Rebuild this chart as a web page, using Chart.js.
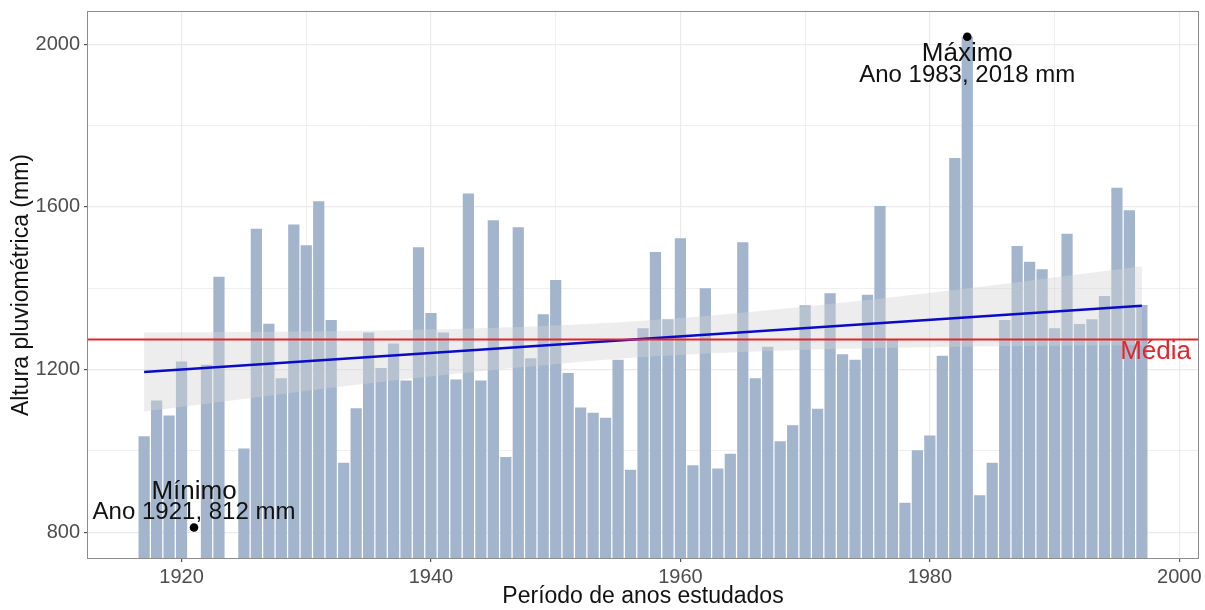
<!DOCTYPE html>
<html>
<head>
<meta charset="utf-8">
<script src="https://cdn.jsdelivr.net/npm/chart.js@4"></script>
<style>
    body { margin: 0; background: #ffffff; }
    #wrap { width: 1205px; height: 610px; }
</style>
</head>
<body>
<div id="wrap"><canvas id="rain" width="1205" height="610"></canvas></div>
<script>
    //yearly rainfall (mm) - no bar for 1921 and 1924
    const years = [1917, 1918, 1919, 1920, 1921, 1922, 1923, 1924, 1925, 1926,
        1927, 1928, 1929, 1930, 1931, 1932, 1933, 1934, 1935, 1936,
        1937, 1938, 1939, 1940, 1941, 1942, 1943, 1944, 1945, 1946,
        1947, 1948, 1949, 1950, 1951, 1952, 1953, 1954, 1955, 1956,
        1957, 1958, 1959, 1960, 1961, 1962, 1963, 1964, 1965, 1966,
        1967, 1968, 1969, 1970, 1971, 1972, 1973, 1974, 1975, 1976,
        1977, 1978, 1979, 1980, 1981, 1982, 1983, 1984, 1985, 1986,
        1987, 1988, 1989, 1990, 1991, 1992, 1993, 1994, 1995, 1996, 1997];
    const rainfall = [1036, 1124, 1087, 1220, null, 1212, 1428, null, 1006, 1546,
        1313, 1179, 1557, 1506, 1614, 1322, 971, 1105, 1291, 1204,
        1264, 1173, 1501, 1339, 1291, 1176, 1633, 1173, 1567, 985,
        1550, 1228, 1336, 1420, 1192, 1107, 1094, 1082, 1224, 954,
        1302, 1489, 1324, 1523, 965, 1400, 957, 993, 1513, 1179,
        1256, 1024, 1063, 1358, 1104, 1388, 1238, 1224, 1384, 1602,
        1273, 873, 1002, 1038, 1234, 1720, 2018, 891, 971, 1322,
        1504, 1465, 1447, 1302, 1534, 1312, 1324, 1381, 1647, 1592, 1359];

    //linear trend and its confidence band
    const trendYears = [1917, 1997];
    const trendValues = [1194, 1357];
    const bandYears = [1917, 1927, 1937, 1947, 1957, 1967, 1977, 1987, 1997];
    const bandUpper = [1291, 1293, 1297, 1305, 1320, 1346, 1378, 1415, 1454];
    const bandLower = [1097, 1136, 1173, 1205, 1231, 1246, 1254, 1258, 1260];

    //mean and extremes
    const meanValue = 1276;
    const extremeYears = [1921, 1983];
    const extremeValues = [812, 2018];

    //axis ticks
    const xTicks = [1920, 1930, 1940, 1950, 1960, 1970, 1980, 1990, 2000];
    const yTicks = [800, 1000, 1200, 1400, 1600, 1800, 2000];

    Chart.defaults.font.family = '"Liberation Sans", Arial, sans-serif';

    const toPoints = (xs, ys) => xs.map((x, i) => ({x: x, y: ys[i]}));

    /*texts, mean line and panel border*/
    const extras = {
        id: 'extras',
        afterDatasetsDraw(chart) {
            const {ctx, chartArea: a, scales: {x, y}} = chart;
            ctx.save();
            const my = Math.round(y.getPixelForValue(meanValue)) + 0.5;
            ctx.strokeStyle = '#E3262B';
            ctx.lineWidth = 1.8;
            ctx.beginPath();
            ctx.moveTo(a.left, my);
            ctx.lineTo(a.right, my);
            ctx.stroke();

            const notes = [
                {text: 'Máximo', x: 1983, y: 1975, size: 26, color: '#111111'},
                {text: 'Ano 1983, 2018 mm', x: 1983, y: 1924, size: 24, color: '#111111'},
                {text: 'Mínimo', x: 1921, y: 900, size: 26, color: '#111111'},
                {text: 'Ano 1921, 812 mm', x: 1921, y: 848, size: 24, color: '#111111'},
                {text: 'Média', x: 1998.1, y: 1244, size: 26, color: '#E3262B'}
            ];
            ctx.textAlign = 'center';
            ctx.textBaseline = 'middle';
            notes.forEach(n => {
                ctx.font = `${n.size}px "Liberation Sans", Arial, sans-serif`;
                ctx.fillStyle = n.color;
                ctx.fillText(n.text, x.getPixelForValue(n.x), y.getPixelForValue(n.y));
            });
            ctx.restore();
        },
        afterDraw(chart) {
            const {ctx, chartArea: a} = chart;
            ctx.save();
            ctx.strokeStyle = '#8C8C8C';
            ctx.lineWidth = 1;
            ctx.strokeRect(a.left - 0.5, a.top - 0.5, a.right - a.left + 1, a.bottom - a.top + 1);
            ctx.restore();
        }
    };

    const rain = document.getElementById('rain');
    new Chart(rain, {
        type: 'bar',
        data: {
            datasets: [{
                type: 'bar',
                data: toPoints(years, rainfall),
                backgroundColor: '#A2B5CD',
                borderWidth: 0,
                barPercentage: 0.9,
                categoryPercentage: 1,
                order: 5
            }, {
                type: 'line',
                data: toPoints(bandYears, bandLower),
                borderColor: 'transparent',
                borderWidth: 0,
                pointRadius: 0,
                cubicInterpolationMode: 'monotone',
                fill: false,
                order: 4
            }, {
                type: 'line',
                data: toPoints(bandYears, bandUpper),
                borderColor: 'transparent',
                borderWidth: 0,
                pointRadius: 0,
                cubicInterpolationMode: 'monotone',
                backgroundColor: 'rgba(212, 212, 212, 0.42)',
                fill: '-1',
                order: 3
            }, {
                type: 'line',
                data: toPoints(trendYears, trendValues),
                borderColor: '#0A0AC8',
                borderWidth: 2.6,
                pointRadius: 0,
                fill: false,
                order: 2
            }, {
                type: 'scatter',
                data: toPoints(extremeYears, extremeValues),
                backgroundColor: '#000000',
                borderWidth: 0,
                pointRadius: 4.3,
                order: 1
            }]
        },
        options: {
            responsive: false,
            animation: false,
            layout: { padding: { left: 0, top: 12, right: 7, bottom: 0 } },
            plugins: { legend: { display: false }, tooltip: { enabled: false } },
            scales: {
                x: {
                    type: 'linear',
                    min: 1912.5,
                    max: 2001.5,
                    offset: false,
                    afterBuildTicks: s => { s.ticks = xTicks.map(v => ({value: v})); },
                    afterFit: s => { s.height = 52; s.paddingLeft = 0; s.paddingRight = 0; },
                    border: { display: false },
                    grid: {
                        offset: false,
                        color: '#EBEBEB',
                        lineWidth: c => (c.tick && c.tick.value % 20 === 0) ? 1.2 : 0.8,
                        tickColor: c => (c.tick && c.tick.value % 20 === 0) ? '#555555' : 'rgba(0,0,0,0)',
                        tickLength: 4
                    },
                    ticks: {
                        autoSkip: false,
                        maxRotation: 0,
                        padding: 3,
                        color: '#4D4D4D',
                        font: { size: 20 },
                        callback: v => v % 20 === 0 ? String(v) : ''
                    },
                    title: {
                        display: true,
                        text: 'Período de anos estudados',
                        color: '#111111',
                        font: { size: 23 },
                        padding: { top: 0, bottom: 0 }
                    }
                },
                y: {
                    type: 'linear',
                    min: 737,
                    max: 2079,
                    afterBuildTicks: s => { s.ticks = yTicks.map(v => ({value: v})); },
                    afterFit: s => { s.width = 88; s.paddingTop = 0; s.paddingBottom = 0; },
                    border: { display: false },
                    grid: {
                        color: '#EBEBEB',
                        lineWidth: c => (c.tick && (c.tick.value - 800) % 400 === 0) ? 1.2 : 0.8,
                        tickColor: c => (c.tick && (c.tick.value - 800) % 400 === 0) ? '#555555' : 'rgba(0,0,0,0)',
                        tickLength: 4
                    },
                    ticks: {
                        padding: 4,
                        color: '#4D4D4D',
                        font: { size: 20 },
                        callback: v => (v - 800) % 400 === 0 ? String(v) : ''
                    },
                    title: {
                        display: true,
                        text: 'Altura pluviométrica (mm)',
                        color: '#111111',
                        font: { size: 23 },
                        padding: { top: 8, bottom: 0 }
                    }
                }
            }
        },
        plugins: [extras]
    });
</script>
</body>
</html>
